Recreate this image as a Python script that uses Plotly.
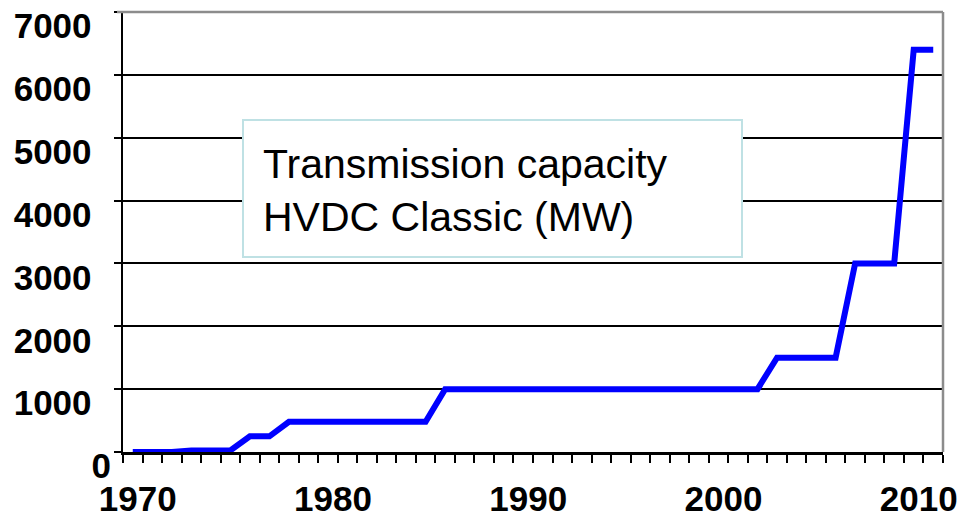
import plotly.graph_objects as go

years = list(range(1970, 2012))
capacity = [0, 0, 0, 25, 25, 25, 250, 250, 480, 480,
            480, 480, 480, 480, 480, 480, 1000, 1000, 1000, 1000,
            1000, 1000, 1000, 1000, 1000, 1000, 1000, 1000, 1000, 1000,
            1000, 1000, 1000, 1500, 1500, 1500, 1500, 3000, 3000, 3000,
            6400, 6400]
x_tick_vals = [1970, 1980, 1990, 2000, 2010]
y_tick_vals = [0, 1000, 2000, 3000, 4000, 5000, 6000, 7000]
box_lines = ["Transmission capacity", "HVDC Classic (MW)"]

W, H = 963, 525
L, R, T, B = 123, 15, 12, 59
PW, PH = W - L - R, H - T - B      # 825 x 454
XSHIFT = 5   # x label shift (px, right)
YSHIFT = 14  # y label shift (px, down)

FONT = "Liberation Sans, Arial, sans-serif"
TICKFONT = dict(family=FONT, size=35, color="black", weight="bold")

fig = go.Figure()
fig.add_trace(go.Scatter(x=years, y=capacity, mode="lines",
                         line=dict(color="#0000ff", width=6),
                         showlegend=False, hoverinfo="skip"))
# invisible companion trace that carries the label axes
fig.add_trace(go.Scatter(x=years, y=capacity, mode="lines",
                         xaxis="x2", yaxis="y2",
                         line=dict(width=0, color="rgba(0,0,0,0)"),
                         showlegend=False, hoverinfo="skip"))

pad = "\u00a0\u00a0"
y_text = [str(v) if v == 0 else str(v) + pad for v in y_tick_vals]

fig.update_layout(
    template="none",
    width=W, height=H,
    margin=dict(l=L, r=R, t=T, b=B, pad=0),
    paper_bgcolor="white", plot_bgcolor="rgba(0,0,0,0)",
    showlegend=False,
    xaxis=dict(domain=[0, 1 - XSHIFT / PW], range=[1969.5, 2011.5], anchor="y",
               tickmode="linear", tick0=1969.5, dtick=1,
               ticks="outside", ticklen=8, tickwidth=2, tickcolor="black",
               showticklabels=False, showgrid=False, zeroline=False,
               showline=True, linecolor="black", linewidth=2.5,
               automargin=False),
    xaxis2=dict(domain=[XSHIFT / PW, 1], range=[1969.5, 2011.5], anchor="y",
                tickmode="array", tickvals=x_tick_vals,
                ticktext=[str(v) for v in x_tick_vals],
                ticks="outside", ticklen=16, tickcolor="rgba(0,0,0,0)",
                showgrid=False, zeroline=False, showline=False,
                tickfont=TICKFONT, automargin=False),
    yaxis=dict(domain=[YSHIFT / PH, 1], range=[0, 7000], anchor="x",
               tickmode="array", tickvals=y_tick_vals,
               showticklabels=False, ticks="outside", ticklen=7,
               tickwidth=2, tickcolor="black",
               showgrid=True, gridcolor="black", gridwidth=2,
               zeroline=False, showline=True, linecolor="black", linewidth=2.5,
               automargin=False),
    yaxis2=dict(domain=[0, 1 - YSHIFT / PH], range=[0, 7000], anchor="x2",
                side="left", tickmode="array", tickvals=y_tick_vals,
                ticktext=y_text, ticks="outside", ticklen=9,
                tickcolor="rgba(0,0,0,0)",
                showgrid=False, zeroline=False, showline=False,
                tickfont=TICKFONT, automargin=False),
)

def px_x(px):
    return (px - L) / PW

def px_y(py):
    return (H - B - py) / PH

# grey plot border (top and right)
fig.add_shape(type="line", xref="paper", yref="paper",
              x0=px_x(117), x1=px_x(943), y0=px_y(12), y1=px_y(12),
              line=dict(color="#8c8c8c", width=2.5))
fig.add_shape(type="line", xref="paper", yref="paper",
              x0=px_x(943), x1=px_x(943), y0=px_y(12), y1=px_y(452),
              line=dict(color="#8c8c8c", width=2.5))

# text box
fig.add_shape(type="rect", xref="paper", yref="paper", layer="above",
              x0=px_x(243), x1=px_x(742), y0=px_y(257), y1=px_y(120),
              fillcolor="white", line=dict(color="#bfe1e4", width=2))
fig.add_annotation(xref="paper", yref="paper", x=px_x(261), y=px_y(191),
                   xanchor="left", yanchor="middle", align="left",
                   showarrow=False, text="<br>".join(box_lines),
                   font=dict(family=FONT, size=41, color="black"))

fig.write_html("out.html",
               config={"displayModeBar": False, "staticPlot": True},
               post_script="document.body.style.margin='0px';"
                           "document.body.style.overflow='hidden';")
